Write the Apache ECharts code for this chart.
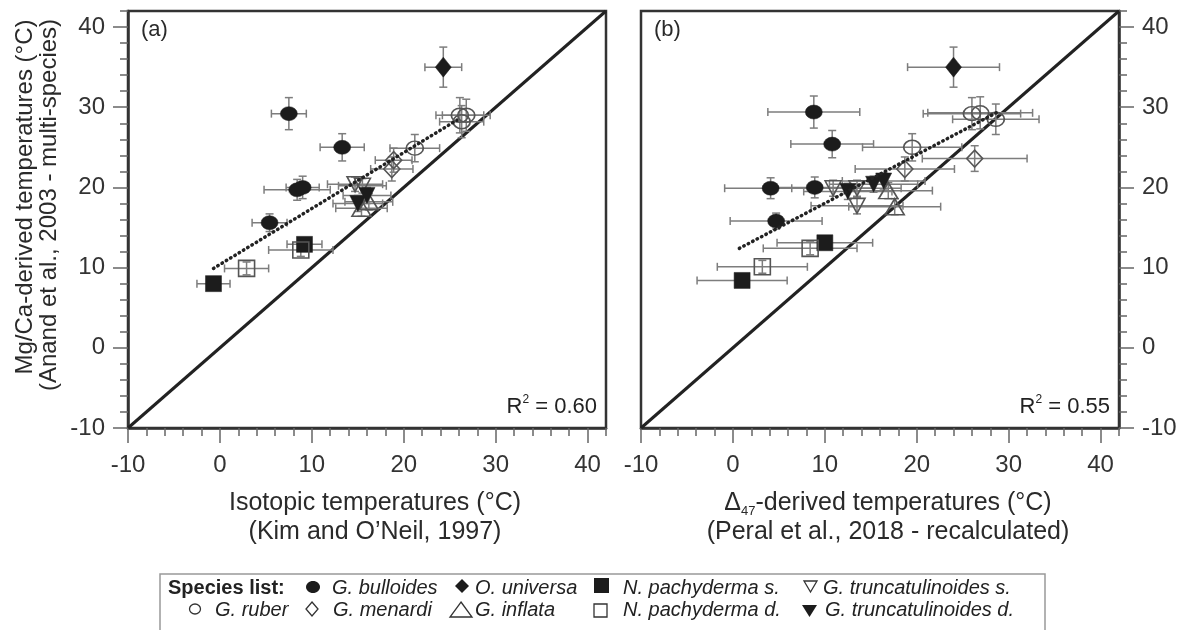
<!DOCTYPE html>
<html><head><meta charset="utf-8">
<script src="https://cdn.jsdelivr.net/npm/echarts@6/dist/echarts.min.js"></script>
<style>html,body{margin:0;padding:0;background:#fff}#c{width:1186px;height:630px}</style>
</head><body><div id="c"></div>
<script>
// ---------- tick values ----------
const majorTicks = [-10, 0, 10, 20, 30, 40];
const axisMin = -10, axisMax = 42;

// ---------- panel (a): [x, y, xErr, yErr] ----------
const aBulloides = [[7.5,29.2,1.9,2.0],[13.3,25.0,2.4,1.7],[8.4,19.7,3.6,1.3],[9.0,20.0,1.8,1.4],[5.4,15.6,1.9,1.1]];
const aUniversa  = [[24.3,35.0,2.0,2.5]];
const aRuber     = [[26.1,29.0,2.6,2.2],[26.8,29.0,2.6,2.0],[26.3,28.2,2.4,2.0],[21.2,24.9,2.7,1.7]];
const aMenardi   = [[18.9,23.4,2.0,1.5],[18.7,22.3,2.3,1.5]];
const aInflata   = [[15.4,17.4,2.8,1.0],[16.2,18.2,2.6,1.0]];
const aPachyS    = [[-0.7,8.0,1.8,0.4],[9.2,12.9,1.9,0.4]];
const aPachyD    = [[2.9,9.9,2.4,0.8],[8.8,12.2,3.5,0.8]];
const aTruncS    = [[14.7,20.4,3.0,0.9],[15.5,20.2,2.6,0.9]];
const aTruncD    = [[15.0,18.0,2.7,1.0],[16.0,19.0,2.6,1.0]];
const aFitX = [-0.7, 25.8];
const aFitY = [9.9, 28.4];
const aR2 = '0.60';

// ---------- panel (b): [x, y, xErr, yErr] ----------
const bBulloides = [[8.8,29.4,5.0,2.0],[10.8,25.4,4.5,1.7],[4.1,19.9,5.0,1.3],[8.9,20.0,4.5,1.3],[4.7,15.8,5.0,1.0]];
const bUniversa  = [[24.0,35.0,5.0,2.5]];
const bRuber     = [[26.0,29.2,5.3,2.0],[26.9,29.3,5.7,2.0],[28.6,28.5,4.7,1.9],[19.5,25.0,5.4,1.7]];
const bMenardi   = [[26.3,23.6,5.7,1.6],[18.7,22.3,5.4,1.5]];
const bInflata   = [[16.9,19.6,4.8,1.0],[17.6,17.6,5.0,1.0]];
const bPachyS    = [[1.0,8.4,4.9,0.4],[10.0,13.1,5.2,0.4]];
const bPachyD    = [[3.2,10.1,4.9,0.8],[8.4,12.4,5.1,0.8]];
const bTruncS    = [[10.9,19.9,4.5,1.0],[13.5,19.9,4.8,1.0],[13.5,17.7,5.0,1.0]];
const bTruncD    = [[12.5,19.5,4.8,1.0],[15.3,20.4,4.8,1.0],[16.4,20.8,4.5,1.0]];
const bFitX = [0.7, 28.8];
const bFitY = [12.4, 29.4];
const bR2 = '0.55';

// ---------- styles ----------
const FONT = '"Liberation Sans", Arial, Helvetica, sans-serif';
const INK = '#1c1c1c';
const OPEN = '#555';
const styles = {
  bulloides: {symbol:'circle', size:[17,14], filled:true},
  universa:  {symbol:'diamond', size:[16,20], filled:true},
  ruber:     {symbol:'circle', size:[17,14], filled:false},
  menardi:   {symbol:'diamond', size:[16,17], filled:false},
  inflata:   {symbol:'triangle', size:[19,16], filled:false},
  pachyS:    {symbol:'rect', size:[16,16], filled:true},
  pachyD:    {symbol:'rect', size:[16,16], filled:false},
  truncS:    {symbol:'triangle', size:[16,15], filled:false, rotate:180},
  truncD:    {symbol:'triangle', size:[16,16], filled:true, rotate:180}
};
const panelA = {bulloides:aBulloides, universa:aUniversa, ruber:aRuber, menardi:aMenardi, inflata:aInflata, pachyS:aPachyS, pachyD:aPachyD, truncS:aTruncS, truncD:aTruncD};
const panelB = {bulloides:bBulloides, universa:bUniversa, ruber:bRuber, menardi:bMenardi, inflata:bInflata, pachyS:bPachyS, pachyD:bPachyD, truncS:bTruncS, truncD:bTruncD};

function errRender(params, api){
  const x=api.value(0), y=api.value(1), ex=api.value(2), ey=api.value(3);
  const l=api.coord([x-ex,y]), r=api.coord([x+ex,y]), t=api.coord([x,y+ey]), b=api.coord([x,y-ey]);
  const c=4;
  const st={stroke:'#7d7d7d', lineWidth:1.5};
  const seg=(x1,y1,x2,y2)=>({type:'line', shape:{x1:x1,y1:y1,x2:x2,y2:y2}, style:st});
  return {type:'group', children:[
    seg(l[0],l[1],r[0],r[1]), seg(l[0],l[1]-c,l[0],l[1]+c), seg(r[0],r[1]-c,r[0],r[1]+c),
    seg(t[0],t[1],b[0],b[1]), seg(t[0]-c,t[1],t[0]+c,t[1]), seg(b[0]-c,b[1],b[0]+c,b[1])
  ]};
}

const series = [];
function addPanel(panel, xi, yi, fitX, fitY){
  series.push({type:'line', xAxisIndex:xi, yAxisIndex:yi, data:[[axisMin,axisMin],[axisMax,axisMax]], symbol:'none', silent:true, z:1,
    lineStyle:{color:'#222', width:3}});
  series.push({type:'line', xAxisIndex:xi, yAxisIndex:yi, data:fitX.map((v,i)=>[v,fitY[i]]), symbol:'none', silent:true, z:4,
    lineStyle:{color:'#222', width:3.5, type:[0.5,4.5], cap:'round'}});
  Object.keys(panel).forEach(k=>{
    const d = panel[k], s = styles[k];
    series.push({type:'custom', xAxisIndex:xi, yAxisIndex:yi, renderItem:errRender, data:d, encode:{x:0,y:1}, z:2, silent:true});
    series.push({type:'scatter', xAxisIndex:xi, yAxisIndex:yi, data:d.map(r=>[r[0],r[1]]), symbol:s.symbol, symbolSize:s.size,
      symbolRotate:s.rotate||0, z:3, silent:true,
      itemStyle: s.filled ? {color:INK, borderColor:INK, borderWidth:0.5, opacity:1}
                          : {color:'rgba(255,255,255,0)', borderColor:OPEN, borderWidth:1.6, opacity:1}});
  });
}
addPanel(panelA, 0, 0, aFitX, aFitY);
addPanel(panelB, 2, 2, bFitX, bFitY);

// tick positions for the long ticks (tiny offset keeps the zero tick)
const tickVals = majorTicks.map(v => v === 0 ? 1e-9 : v);
function majorAxis(grid, pos){
  return {gridIndex:grid, type:'value', min:axisMin, max:axisMax, interval:10, position:pos,
    axisLine:{show:true, onZero:false, lineStyle:{color:'#333', width:2.5}},
    axisTick:{show:true, inside:false, length:15, customValues:tickVals, lineStyle:{color:'#666', width:1.5}},
    axisLabel:{show:true, margin:(pos==='bottom'?25:23), fontSize:24, color:'#333', fontFamily:FONT,
      formatter: v => (majorTicks.indexOf(Math.round(v)) >= 0 && Math.abs(v - Math.round(v)) < 1e-6 ? String(Math.round(v)) : '')},
    splitLine:{show:false}};
}
function minorAxis(grid, pos){
  return {gridIndex:grid, type:'value', min:axisMin, max:axisMax, interval:2, position:pos,
    axisLine:{show:false, onZero:false},
    axisTick:{show:true, inside:false, length:8, lineStyle:{color:'#666', width:1.5}},
    axisLabel:{show:false}, splitLine:{show:false}};
}

const T = (text, x, y, size, extra) => Object.assign({type:'text', x:x, y:y, silent:true,
  style:Object.assign({text:text, font:(size+'px '+FONT), fill:'#2a2a2a', align:'center', verticalAlign:'middle'}, extra||{})});

const legendFont = '20px ' + FONT;
const legendItalic = 'italic 20px ' + FONT;
const LT = (text, x, y) => ({type:'text', x:x, y:y, silent:true, style:{text:text, font:legendItalic, fill:'#222', align:'left', verticalAlign:'middle'}});
const fillS = {fill:INK};
const openS = {fill:'none', stroke:'#333', lineWidth:1.3};

const graphic = [
  T('Mg/Ca-derived temperatures (°C)', 25, 197, 24, {}),
  T('(Anand et al., 2003 - multi-species)', 49, 205, 24, {}),
  T('Isotopic temperatures (°C)', 375, 503, 25),
  T('(Kim and O\u2019Neil, 1997)', 375, 532, 25),
  {type:'text', x:888, y:503, silent:true, style:{text:'{m|\u0394}{s|47}{m|-derived temperatures (°C)}', align:'center', verticalAlign:'middle', fill:'#2a2a2a',
    rich:{m:{font:'25px '+FONT, fill:'#2a2a2a', lineHeight:30}, s:{font:'13px '+FONT, fill:'#2a2a2a', verticalAlign:'bottom', lineHeight:24}}}},
  T('(Peral et al., 2018 - recalculated)', 888, 532, 25),
  T('(a)', 141, 30, 22, {align:'left'}),
  T('(b)', 654, 30, 22, {align:'left'}),
  {type:'text', x:597, y:407, silent:true, style:{text:'{m|R}{s|2}{m| = '+aR2+'}', align:'right', verticalAlign:'middle', fill:'#222',
    rich:{m:{font:'22px '+FONT, fill:'#222', lineHeight:26}, s:{font:'12px '+FONT, fill:'#222', verticalAlign:'top', lineHeight:20}}}},
  {type:'text', x:1110, y:407, silent:true, style:{text:'{m|R}{s|2}{m| = '+bR2+'}', align:'right', verticalAlign:'middle', fill:'#222',
    rich:{m:{font:'22px '+FONT, fill:'#222', lineHeight:26}, s:{font:'12px '+FONT, fill:'#222', verticalAlign:'top', lineHeight:20}}}},
  // legend box
  {type:'rect', silent:true, shape:{x:160, y:574, width:885, height:80}, style:{fill:'none', stroke:'#999', lineWidth:1.5}},
  {type:'text', x:168, y:588, silent:true, style:{text:'Species list:', font:'bold '+legendFont, fill:'#222', align:'left', verticalAlign:'middle'}},
  {type:'ellipse', silent:true, shape:{cx:313, cy:587, rx:7, ry:6}, style:fillS},
  LT('G. bulloides', 332, 588),
  {type:'polygon', silent:true, shape:{points:[[462,579],[469,586],[462,593],[455,586]]}, style:fillS},
  LT('O. universa', 475, 588),
  {type:'rect', silent:true, shape:{x:594, y:578, width:15, height:15}, style:fillS},
  LT('N. pachyderma s.', 623, 588),
  {type:'polygon', silent:true, shape:{points:[[804,581],[817,581],[810.5,592]]}, style:openS},
  LT('G. truncatulinoides s.', 823, 588),
  {type:'ellipse', silent:true, shape:{cx:195, cy:609, rx:5.5, ry:5}, style:openS},
  LT('G. ruber', 215, 610),
  {type:'polygon', silent:true, shape:{points:[[312,602],[318,609],[312,616],[306,609]]}, style:openS},
  LT('G. menardi', 333, 610),
  {type:'polygon', silent:true, shape:{points:[[461,602],[472,617],[450,617]]}, style:openS},
  LT('G. inflata', 475, 610),
  {type:'rect', silent:true, shape:{x:594, y:604, width:13, height:13}, style:openS},
  LT('N. pachyderma d.', 623, 610),
  {type:'polygon', silent:true, shape:{points:[[802,605],[817,605],[809.5,617]]}, style:fillS},
  LT('G. truncatulinoides d.', 825, 610)
];
graphic[0].rotation = Math.PI/2;
graphic[1].rotation = Math.PI/2;

const option = {
  backgroundColor:'#fff',
  animation:false,
  grid:[
    {left:128, top:11, width:478, height:417, show:true, borderColor:'#333', borderWidth:2.5, containLabel:false},
    {left:641, top:11, width:478, height:417, show:true, borderColor:'#333', borderWidth:2.5, containLabel:false}
  ],
  xAxis:[majorAxis(0,'bottom'), minorAxis(0,'bottom'), majorAxis(1,'bottom'), minorAxis(1,'bottom')],
  yAxis:[majorAxis(0,'left'), minorAxis(0,'left'), majorAxis(1,'right'), minorAxis(1,'right')],
  series:series,
  graphic:graphic
};
const chart = echarts.init(document.getElementById('c'), null, {renderer:'canvas'});
chart.setOption(option);
</script></body></html>
